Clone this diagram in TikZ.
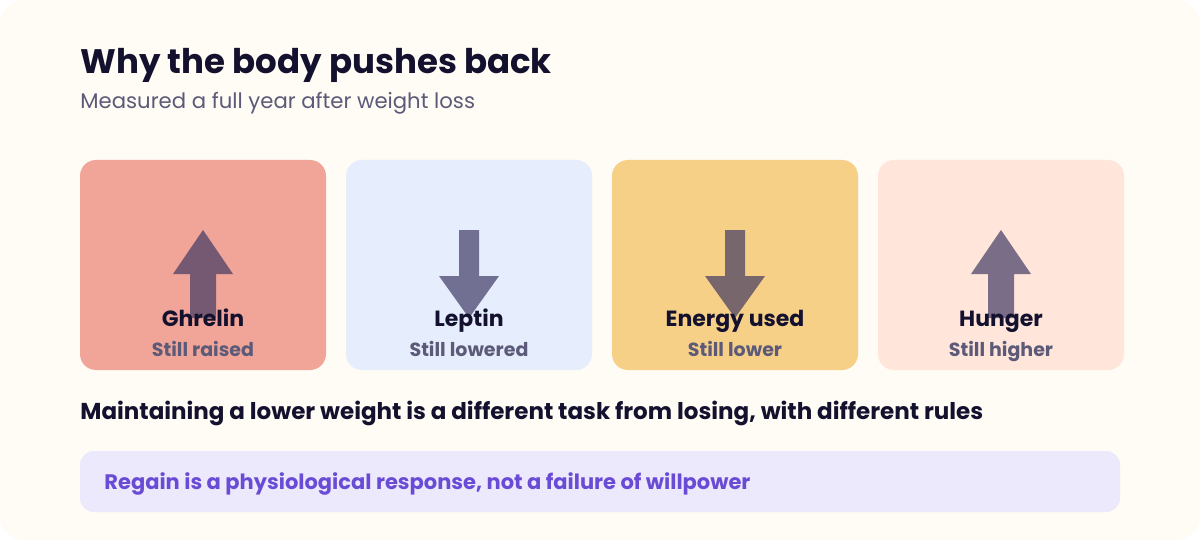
\documentclass[tikz,border=0pt]{standalone}
\usepackage{fontspec}
\setmainfont{Poppins}
\definecolor{cardbg}{HTML}{FFFBF5}
\definecolor{ink}{HTML}{14112E}
\definecolor{subink}{HTML}{5C5A78}
\definecolor{arrowink}{HTML}{3B3560}
\definecolor{ghrelinbg}{HTML}{F0A598}
\definecolor{leptinbg}{HTML}{E6EDFC}
\definecolor{energybg}{HTML}{F7D088}
\definecolor{hungerbg}{HTML}{FFE5DA}
\definecolor{notebg}{HTML}{ECE9FC}
\definecolor{noteink}{HTML}{6A4BD6}
\tikzset{
    card/.style={rounded corners=8pt, draw=none},
    label/.style={anchor=base, inner sep=0, font=\fontsize{11}{13}\selectfont\bfseries, text=ink},
    sublabel/.style={anchor=base, inner sep=0, font=\fontsize{9.5}{11}\selectfont\bfseries, text=subink},
    arr/.style={fill=arrowink, fill opacity=0.68, draw=none},
}
\begin{document}
\begin{tikzpicture}[x=0.5pt, y=-0.5pt]
    \useasboundingbox (0,0) rectangle (1200,540);
    \fill[white] (0,0) rectangle (1200,540);
    \fill[cardbg, rounded corners=12pt] (0,0) rectangle (1200,540);

    \node[anchor=base west, font=\fontsize{17}{20}\selectfont\bfseries, text=ink, inner sep=0] (title) at (80,74) {Why the body pushes back};
    \node[anchor=base west, font=\fontsize{10.6}{12}\selectfont, text=subink, inner sep=0] (subtitle) at (80,109) {Measured a full year after weight loss};

    % cards: x-left / colour / name / status / direction
    \foreach \x/\bg/\name/\status/\dir [count=\i] in {80/ghrelinbg/Ghrelin/Still raised/1, 346/leptinbg/Leptin/Still lowered/-1, 612/energybg/Energy used/Still lower/-1, 878/hungerbg/Hunger/Still higher/1} {
        \fill[card, \bg] (\x,160) rectangle ++(246,210);
        \pgfmathsetmacro{\cx}{\x+123}
        \ifnum\dir=1
            \fill[arr] (\cx,230) -- (\cx+30,274) -- (\cx+13,274) -- (\cx+13,318) -- (\cx-13,318) -- (\cx-13,274) -- (\cx-30,274) -- cycle;
        \else
            \fill[arr] (\cx-10,230) -- (\cx+10,230) -- (\cx+10,276) -- (\cx+30,276) -- (\cx,318) -- (\cx-30,276) -- (\cx-10,276) -- cycle;
        \fi
        \node[label] (name\i) at (\cx,326) {\name};
        \node[sublabel] (status\i) at (\cx,356) {\status};
    }

    \node[anchor=base west, font=\fontsize{11.5}{13}\selectfont\bfseries, text=ink, inner sep=0] (claim) at (80,419) {Maintaining a lower weight is a different task from losing, with different rules};

    \fill[notebg, rounded corners=7pt] (80,451) rectangle (1120,512);
    \node[anchor=base west, font=\fontsize{10.5}{12}\selectfont\bfseries, text=noteink, inner sep=0] (note) at (104,489) {Regain is a physiological response, not a failure of willpower};
\end{tikzpicture}
\end{document}
